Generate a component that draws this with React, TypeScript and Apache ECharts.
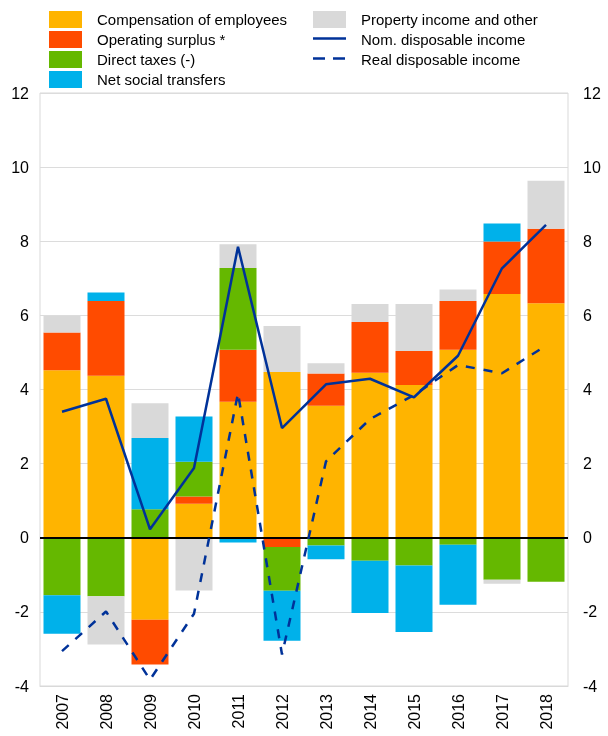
import React, { useEffect, useRef } from 'react';
import * as echarts from 'echarts';

const years = ['2007', '2008', '2009', '2010', '2011', '2012', '2013', '2014', '2015', '2016', '2017', '2018'];
const compensation = [4.52, 4.37, -2.21, 0.92, 3.67, 4.47, 3.56, 4.45, 4.12, 5.07, 6.58, 6.33];
const operatingSurplus = [1.02, 2.02, -1.21, 0.19, 1.4, -0.25, 0.87, 1.37, 0.92, 1.32, 1.41, 2.01];
const directTaxes = [-1.55, -1.58, 0.77, 0.94, 2.21, -1.18, -0.21, -0.62, -0.75, -0.19, -1.13, -1.19];
const netSocialTransfers = [-1.04, 0.23, 1.92, 1.22, -0.13, -1.35, -0.37, -1.41, -1.79, -1.62, 0.49, 0.0];
const propertyIncome = [0.44, -1.3, 0.94, -1.42, 0.64, 1.24, 0.28, 0.49, 1.27, 0.31, -0.11, 1.29];
const nomDisposable = [3.4, 3.75, 0.23, 1.88, 7.85, 2.96, 4.14, 4.29, 3.79, 4.91, 7.27, 8.44];
const realDisposable = [-3.06, -1.99, -3.83, -2.05, 3.9, -3.15, 2.06, 3.2, 3.85, 4.66, 4.44, 5.18];
const yTicks = { min: -4, max: 12, interval: 2 };

const FONT = 'Liberation Sans, Arial, sans-serif';
const NAVY = '#003299';

export default function App() {
  const ref = useRef<HTMLDivElement>(null);
  useEffect(() => {
    const chart = echarts.init(ref.current as HTMLDivElement, null, { renderer: 'svg' });
    const bar = (name: string, data: number[], color: string, extra: any = {}) => ({
      name,
      type: 'bar',
      stack: 'total',
      data,
      barWidth: 37,
      itemStyle: { color },
      emphasis: { disabled: true },
      ...extra,
    });
    const legendBase = {
      orient: 'vertical',
      top: 6,
      icon: 'rect',
      itemWidth: 33,
      itemHeight: 17,
      itemGap: 3,
      selectedMode: false,
      textStyle: { fontSize: 15, fontFamily: FONT, color: '#000', padding: [0, 0, 0, 10] },
    };
    const lineLegend = (label: string, cy: number, dash: any) => [
      {
        type: 'line',
        shape: { x1: 313, y1: cy - 1, x2: 346, y2: cy - 1 },
        style: { stroke: NAVY, lineWidth: 2.5, lineDash: dash },
        silent: true,
      },
      {
        type: 'text',
        x: 361,
        y: cy,
        style: { text: label, fontSize: 15, fontFamily: FONT, fill: '#000', verticalAlign: 'middle', align: 'left' },
        silent: true,
      },
    ];
    chart.setOption({
      animation: false,
      textStyle: { fontFamily: FONT },
      legend: [
        {
          ...legendBase,
          left: 44,
          data: ['Compensation of employees', 'Operating surplus *', 'Direct taxes (-)', 'Net social transfers'],
        },
        {
          ...legendBase,
          left: 308,
          data: ['Property income and other'],
        },
      ],
      graphic: [
        ...lineLegend('Nom. disposable income', 39.5, null),
        ...lineLegend('Real disposable income', 59.5, [12, 8]),
      ],
      grid: { left: 40, right: 40, top: 93, bottom: 50, show: true, borderColor: '#d9d9d9', borderWidth: 1 },
      xAxis: {
        type: 'category',
        data: years,
        axisLine: { onZero: false, lineStyle: { color: '#d9d9d9' } },
        axisTick: { inside: true, length: 4, lineStyle: { color: '#d9d9d9' } },
        axisLabel: { rotate: 90, fontSize: 16, color: '#000', margin: 8, fontFamily: FONT },
      },
      yAxis: [
        {
          type: 'value',
          ...yTicks,
          position: 'left',
          axisLine: { show: false },
          axisTick: { show: false },
          axisLabel: { fontSize: 16, color: '#000', margin: 11, fontFamily: FONT },
          splitLine: { lineStyle: { color: '#dcdcdc' } },
        },
        {
          type: 'value',
          ...yTicks,
          position: 'right',
          axisLine: { show: false },
          axisTick: { show: false },
          axisLabel: { fontSize: 16, color: '#000', margin: 15, fontFamily: FONT },
          splitLine: { show: false },
        },
      ],
      series: [
        bar('Compensation of employees', compensation, '#FFB400', {
          markLine: {
            symbol: 'none',
            silent: true,
            label: { show: false },
            lineStyle: { color: '#000', width: 2, type: 'solid' },
            data: [{ yAxis: 0 }],
          },
        }),
        bar('Operating surplus *', operatingSurplus, '#FF4B00'),
        bar('Direct taxes (-)', directTaxes, '#65B800'),
        bar('Net social transfers', netSocialTransfers, '#00B1EA'),
        bar('Property income and other', propertyIncome, '#D9D9D9'),
        {
          name: 'Nom. disposable income',
          type: 'line',
          data: nomDisposable,
          symbol: 'none',
          z: 5,
          itemStyle: { color: NAVY },
          lineStyle: { color: NAVY, width: 2.5 },
          emphasis: { disabled: true },
        },
        {
          name: 'Real disposable income',
          type: 'line',
          data: realDisposable,
          symbol: 'none',
          z: 5,
          itemStyle: { color: NAVY },
          lineStyle: { color: NAVY, width: 2.5, type: [9, 9] },
          emphasis: { disabled: true },
        },
      ],
    });
    return () => chart.dispose();
  }, []);
  return <div ref={ref} style={{ position: 'fixed', left: 0, top: 0, width: 608, height: 736 }} />;
}
